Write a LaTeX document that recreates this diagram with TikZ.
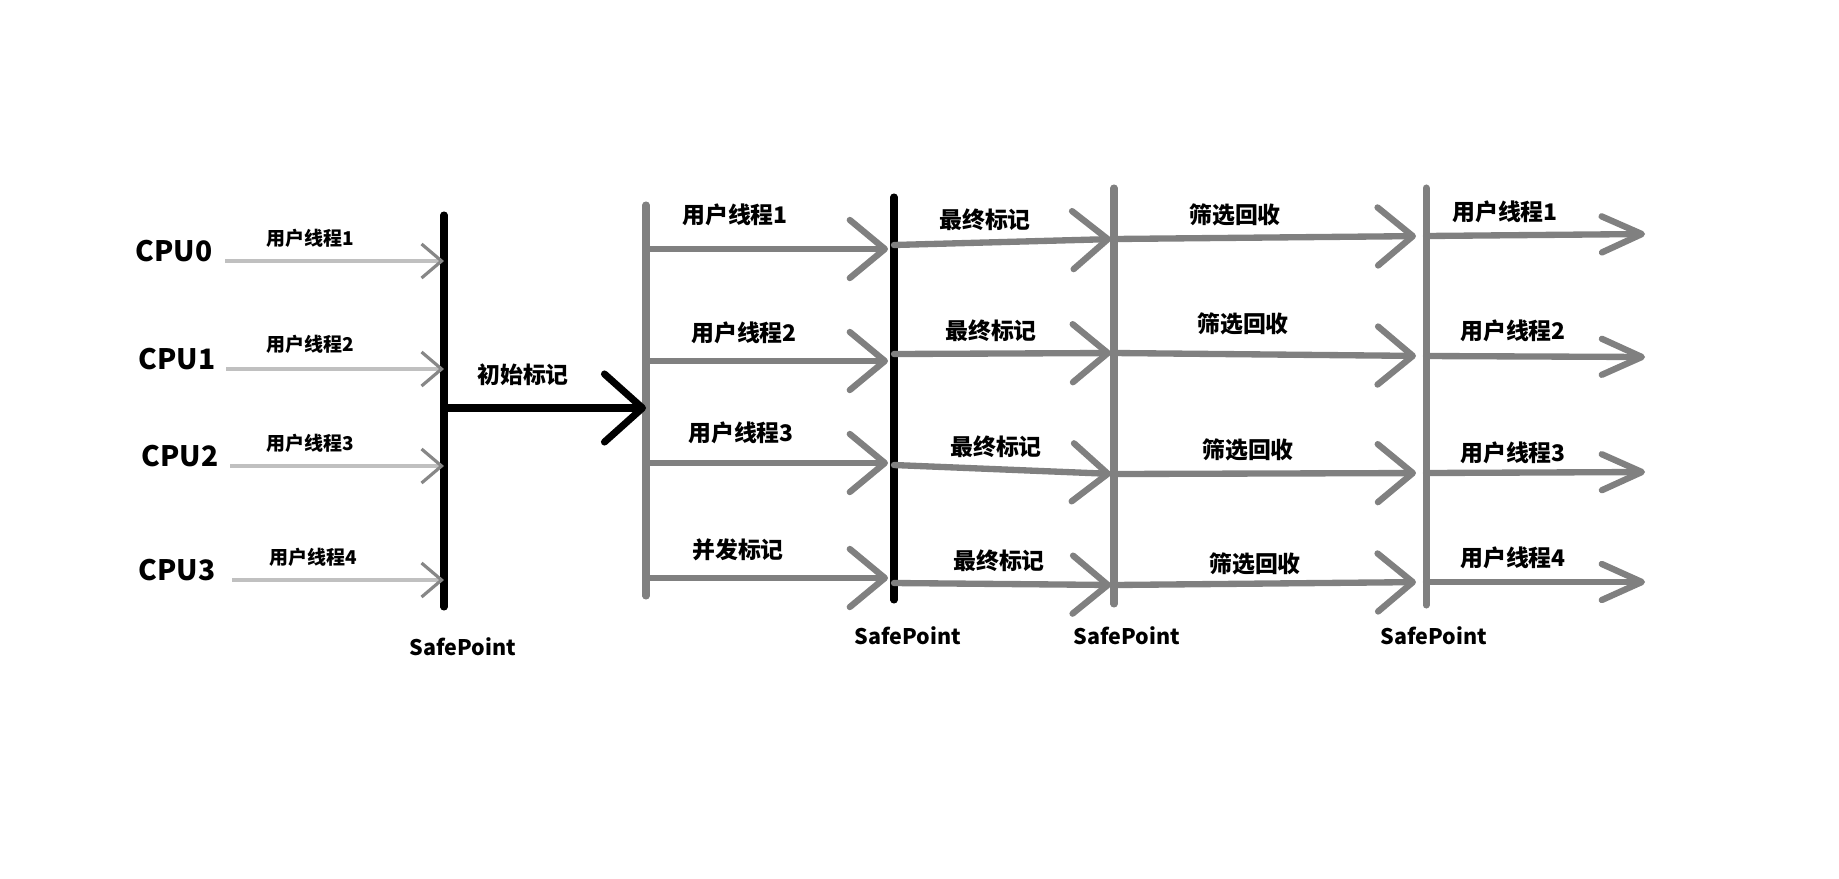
\documentclass[tikz,border=0pt]{standalone}
\usepackage{fontspec}
\setmainfont{Noto Sans CJK SC}
\usetikzlibrary{arrows.meta, positioning, calc}

\definecolor{lanegray}{RGB}{128,128,128}
\definecolor{cpugray}{RGB}{192,192,192}
\definecolor{tipgray}{RGB}{135,135,135}

\begin{document}
\begin{tikzpicture}[
    x=0.01cm, y=-0.01cm,
    cpu/.style={
        font=\fontsize{8}{8}\selectfont\bfseries,
        inner sep=0pt,
        anchor=base east
    },
    lbl/.style={
        font=\fontsize{6.5}{6.5}\selectfont\bfseries,
        inner sep=0pt
    },
    small/.style={
        font=\fontsize{5.4}{5.4}\selectfont\bfseries,
        inner sep=0pt
    },
    sp/.style={
        font=\fontsize{6.1}{6.1}\selectfont\bfseries,
        inner sep=0pt
    },
    barrier/.style={
        line width=2pt,
        line cap=round
    },
    thread/.style={
        -{Straight Barb[length=0.2cm, width=0.34cm, color=tipgray, line width=0.9pt]},
        line width=1.2pt,
        draw=cpugray
    },
    phase/.style={
        -{Straight Barb[length=0.35cm, width=0.58cm, round]},
        line width=1.8pt,
        line cap=round,
        draw=lanegray
    },
    tail/.style={
        -{Straight Barb[length=0.4cm, width=0.36cm, round]},
        line width=1.8pt,
        line cap=round,
        draw=lanegray
    },
    initarrow/.style={
        -{Straight Barb[length=0.38cm, width=0.68cm, round]},
        line width=2pt,
        line cap=round,
        draw=black
    }
]
\useasboundingbox (0,0) rectangle (1839,878);

% Safepoint lines
\coordinate (sp1t) at (444,215);
\coordinate (sp1b) at (444,607);
\coordinate (l2t) at (646,205);
\coordinate (l2b) at (646,596);
\coordinate (sp2t) at (894,197);
\coordinate (sp2b) at (894,600);
\coordinate (sp3t) at (1114,188);
\coordinate (sp3b) at (1114,604);
\coordinate (sp4t) at (1426,188);
\coordinate (sp4b) at (1426,605);

\draw [barrier, draw=black] (sp1t) -- (sp1b);
\draw [barrier, draw=lanegray] (l2t) -- (l2b);
\draw [barrier, draw=black] (sp2t) -- (sp2b);
\draw [barrier, draw=lanegray] (sp3t) -- (sp3b);
\draw [barrier, draw=lanegray] (sp4t) -- (sp4b);

% CPUs
\node (cpu0) [cpu] at (213,261) {CPU0};
\node (cpu1) [cpu] at (216,369) {CPU1};
\node (cpu2) [cpu] at (219,466) {CPU2};
\node (cpu3) [cpu] at (216,580) {CPU3};

\draw [thread] ([xshift=0.12cm]cpu0.base east) -- (cpu0.base -| sp1t);
\draw [thread] ([xshift=0.1cm]cpu1.base east) -- (cpu1.base -| sp1t);
\draw [thread] ([xshift=0.11cm]cpu2.base east) -- (cpu2.base -| sp1t);
\draw [thread] ([xshift=0.16cm]cpu3.base east) -- (cpu3.base -| sp1t);

\node (t0) [small] at (310,238) {用户线程1};
\node (t1) [small] at (310,344) {用户线程2};
\node (t2) [small] at (310,443) {用户线程3};
\node (t3) [small] at (313,557) {用户线程4};

% Initial mark
\coordinate (im) at (444,408);
\draw [initarrow] (im) -- (im -| l2t);
\node (init) [lbl] at (523,375) {初始标记};

% Crossing points
\coordinate (a0) at (646,249);
\coordinate (a1) at (646,361);
\coordinate (a2) at (646,463);
\coordinate (a3) at (646,578);
\coordinate (b0) at (894,245);
\coordinate (b1) at (894,354);
\coordinate (b2) at (894,465);
\coordinate (b3) at (894,583);
\coordinate (c0) at (1114,239);
\coordinate (c1) at (1114,353);
\coordinate (c2) at (1114,474);
\coordinate (c3) at (1114,585);
\coordinate (d0) at (1426,236);
\coordinate (d1) at (1426,356);
\coordinate (d2) at (1426,473);
\coordinate (d3) at (1426,582);
\coordinate (e0) at (1645,234);
\coordinate (e1) at (1645,357);
\coordinate (e2) at (1645,472);
\coordinate (e3) at (1645,582);

% Concurrent phase
\draw [phase, shorten >=0.06cm] (a0) -- (a0 -| b0);
\draw [phase, shorten >=0.06cm] (a1) -- (a1 -| b1);
\draw [phase, shorten >=0.06cm] (a2) -- (a2 -| b2);
\draw [phase, shorten >=0.06cm] (a3) -- (a3 -| b3);
\node (u0) [lbl] at (735,215) {用户线程1};
\node (u1) [lbl] at (744,333) {用户线程2};
\node (u2) [lbl] at (741,433) {用户线程3};
\node (cm) [lbl] at (738,550) {并发标记};

% Final mark
\draw [phase, shorten >=0.03cm] (b0) -- (c0);
\draw [phase, shorten >=0.03cm] (b1) -- (c1);
\draw [phase, shorten >=0.03cm] (b2) -- (c2);
\draw [phase, shorten >=0.03cm] (b3) -- (c3);
\node (f0) [lbl] at (985,220) {最终标记};
\node (f1) [lbl] at (991,331) {最终标记};
\node (f2) [lbl] at (996,447) {最终标记};
\node (f3) [lbl] at (999,561) {最终标记};

% Cleanup
\draw [phase, shorten >=0.1cm] (c0) -- (d0);
\draw [phase, shorten >=0.1cm] (c1) -- (d1);
\draw [phase, shorten >=0.1cm] (c2) -- (d2);
\draw [phase, shorten >=0.1cm] (c3) -- (d3);
\node (s0) [lbl] at (1235,215) {筛选回收};
\node (s1) [lbl] at (1243,324) {筛选回收};
\node (s2) [lbl] at (1248,450) {筛选回收};
\node (s3) [lbl] at (1255,564) {筛选回收};

% User threads again
\draw [tail] (d0) -- (e0);
\draw [tail] (d1) -- (e1);
\draw [tail] (d2) -- (e2);
\draw [tail] (d3) -- (e3);
\node (r0) [lbl] at (1505,212) {用户线程1};
\node (r1) [lbl] at (1513,331) {用户线程2};
\node (r2) [lbl] at (1513,453) {用户线程3};
\node (r3) [lbl] at (1513,558) {用户线程4};

% SafePoint labels
\node (p1) [sp] at (463,647) {SafePoint};
\node (p2) [sp] at (908,636) {SafePoint};
\node (p3) [sp] at (1127,636) {SafePoint};
\node (p4) [sp] at (1434,636) {SafePoint};

\end{tikzpicture}
\end{document}
